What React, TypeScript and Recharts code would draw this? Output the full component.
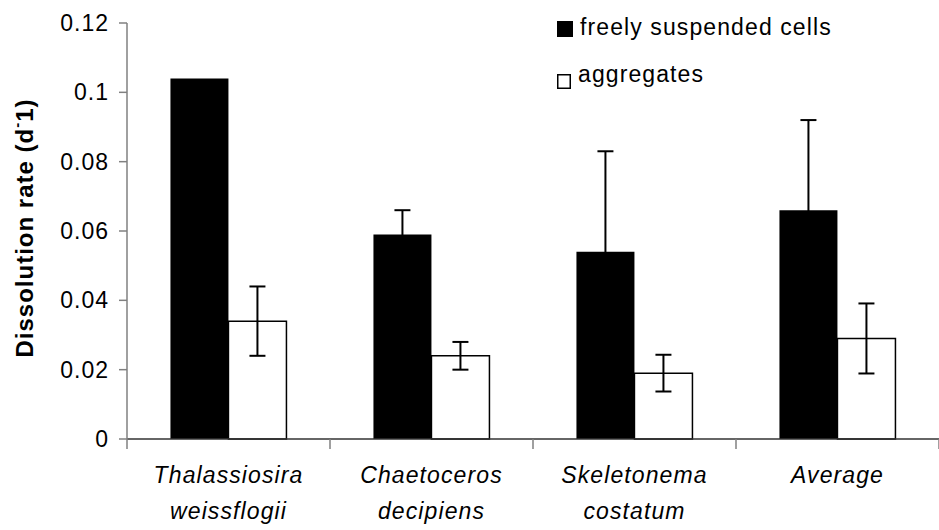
import { BarChart, Bar, XAxis, YAxis, ErrorBar } from "recharts";

const FONT = '"Liberation Sans", Arial, sans-serif';

const labelTop = ["Thalassiosira", "Chaetoceros", "Skeletonema", "Average"];
const labelBottom = ["weissflogii", "decipiens", "costatum", ""];
const freeCells = [0.104, 0.059, 0.054, 0.066];
const freeErr = [0, 0.007, 0.029, 0.026];
const aggregates = [0.034, 0.024, 0.019, 0.029];
const aggErr = [0.01, 0.004, 0.0053, 0.0101];
const yTicks = [0, 0.02, 0.04, 0.06, 0.08, 0.1, 0.12];

const data = labelTop.map((name, i) => ({
  name,
  sub: labelBottom[i],
  free: freeCells[i],
  freeErr: freeErr[i],
  agg: aggregates[i],
  aggErr: aggErr[i],
}));

function CategoryTick(props: any) {
  const { x, y, payload } = props;
  const half = payload.offset ?? 0;
  const row = data[payload.index];
  const last = payload.index === data.length - 1;
  return (
    <g>
      <line x1={x - half} y1={y} x2={x - half} y2={y + 10} stroke="#808080" strokeWidth={1.5} />
      {last && <line x1={x + half} y1={y} x2={x + half} y2={y + 10} stroke="#808080" strokeWidth={1.5} />}
      <text x={x} y={y + 44} textAnchor="middle" fontStyle="italic" fontSize={23} letterSpacing={1.1} fill="#000" fontFamily={FONT}>
        {row.name}
      </text>
      <text x={x} y={y + 80} textAnchor="middle" fontStyle="italic" fontSize={23} letterSpacing={1.1} fill="#000" fontFamily={FONT}>
        {row.sub}
      </text>
    </g>
  );
}

function AxisTitle(props: any) {
  const vb = props.viewBox || { y: 23, height: 416 };
  const cx = 24;
  const cy = vb.y + vb.height / 2 - 3;
  return (
    <text
      x={cx}
      y={cy}
      transform={`rotate(-90, ${cx}, ${cy})`}
      textAnchor="middle"
      dominantBaseline="central"
      fontWeight="bold"
      fontSize={24}
      letterSpacing={1}
      fill="#000"
      fontFamily={FONT}
    >
      Dissolution rate (d
      <tspan dy={-8} fontSize={15}>-</tspan>
      <tspan dy={8}>1)</tspan>
    </text>
  );
}

function ChartLegend() {
  return (
    <svg width={320} height={100} style={{ position: "absolute", left: 550, top: 0 }}>
      <rect x={7} y={21} width={16} height={16} fill="#000" />
      <text x={30} y={35} fontSize={23} letterSpacing={1.1} fontFamily={FONT} fill="#000">
        freely suspended cells
      </text>
      <rect x={7.75} y={74.75} width={12.5} height={13.5} fill="#fff" stroke="#000" strokeWidth={1.5} />
      <text x={28} y={82} fontSize={23} letterSpacing={1.1} fontFamily={FONT} fill="#000">
        aggregates
      </text>
    </svg>
  );
}

export default function App() {
  return (
    <div style={{ position: "absolute", left: 0, top: 0, width: 939, height: 530, background: "#fff", fontFamily: FONT }}>
      <BarChart
        width={939}
        height={530}
        data={data}
        margin={{ top: 23, right: 0, bottom: 0, left: 0 }}
        barCategoryGap="21.4%"
        barGap={0}
      >
        <XAxis
          dataKey="name"
          height={91}
          interval={0}
          tickLine={false}
          tickSize={0}
          tickMargin={0}
          axisLine={{ stroke: "#333", strokeWidth: 1.5 }}
          tick={<CategoryTick />}
        />
        <YAxis
          width={127}
          domain={[0, 0.12]}
          ticks={yTicks}
          interval={0}
          tickSize={8}
          tickMargin={10}
          axisLine={{ stroke: "#808080", strokeWidth: 1.5 }}
          tickLine={{ stroke: "#808080", strokeWidth: 1.5 }}
          tick={{ fill: "#000", fontSize: 23, fontFamily: FONT, letterSpacing: 1 }}
          tickFormatter={(v: number) => String(v)}
          label={<AxisTitle />}
        />
        <Bar dataKey="free" fill="#000" isAnimationActive={false}>
          <ErrorBar dataKey="freeErr" width={8} stroke="#000" strokeWidth={2} direction="y" />
        </Bar>
        <Bar dataKey="agg" fill="#fff" stroke="#000" strokeWidth={1.5} isAnimationActive={false}>
          <ErrorBar dataKey="aggErr" width={8} stroke="#000" strokeWidth={2} direction="y" />
        </Bar>
      </BarChart>
      <ChartLegend />
    </div>
  );
}
